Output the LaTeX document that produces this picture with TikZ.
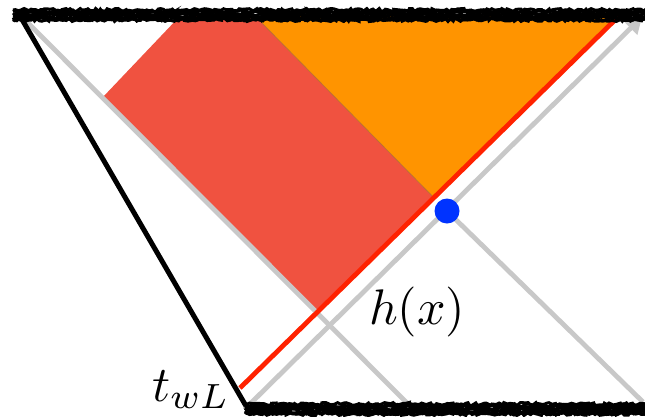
\documentclass[tikz,border=0pt]{standalone}
\usetikzlibrary{arrows.meta,decorations.pathmorphing}
\definecolor{redfill}{RGB}{240,82,64}
\definecolor{orangefill}{RGB}{255,148,0}
\definecolor{redline}{RGB}{255,34,0}
\definecolor{greyline}{RGB}{200,200,200}
\definecolor{bluedot}{RGB}{0,51,255}
\definecolor{seam}{RGB}{190,110,50}
\begin{document}
\begin{tikzpicture}[x=1pt,y=-1pt,
  greyray/.style={draw=greyline,line width=4.8pt},
  redray/.style={draw=redline,line width=4.8pt},
  wall/.style={draw=black,line width=5pt},
  chalk/.style={draw=black,line width=3pt,decorate,
    decoration={random steps,segment length=2.5pt,amplitude=1.5pt}},
  lbl/.style={inner sep=0pt,scale=5}]
\pgfmathsetseed{7}
\useasboundingbox (0,0) rectangle (645,416);
% key points
\coordinate (WT) at (20,16);
\coordinate (WB) at (246,406);
\coordinate (G1a) at (25,20);
\coordinate (G1b) at (408,404);
\coordinate (G2a) at (250,404);
\coordinate (G2b) at (642,17);
\coordinate (G3a) at (255,17);
\coordinate (G3b) at (643,402);
\coordinate (R1) at (240,388);
\coordinate (R2) at (619,16);
\coordinate (P) at (447,211);
\coordinate (Apex) at (intersection of R1--R2 and G3a--P);
\coordinate (Low) at (intersection of R1--R2 and G1a--G1b);
\coordinate (Lc) at (103,97);
\coordinate (Tc) at (180,16);
\coordinate (To) at (255,16);
% fills
\fill[redfill] (Tc) -- (To) -- (Apex) -- (Low) -- (Lc) -- cycle;
\fill[orangefill] (To) -- (R2) -- (Apex) -- cycle;
\draw[seam,line width=0.8pt] (To) -- (Apex);
% grey rays
\draw[greyray] (G1a) -- (G1b);
\draw[greyray,-{Triangle[length=16pt,width=18pt]}] (G2a) -- (G2b);
\draw[greyray] (P) -- (G3b);
% red ray and wall
\draw[redray] (R1) -- (R2);
\draw[wall] (WT) -- (WB);
% singularities
\foreach \d [count=\i] in {-5,-3.5,-2,-0.5,1,2.5,4,5}{
  \coordinate (ta\i) at (13,{15+\d});
  \coordinate (tb\i) at (648,{15+\d});
  \draw[chalk] (ta\i) -- (tb\i);
  \coordinate (ba\i) at (245,{409+\d});
  \coordinate (bb\i) at (648,{409+\d});
  \draw[chalk] (ba\i) -- (bb\i);
}
% point and labels
\node[circle,fill=bluedot,inner sep=0pt,minimum size=25pt] (dot) at (P) {};
\node[lbl,anchor=base west] (hx) at (368,324) {$h(x)$};
\node[lbl,anchor=base west] (tw) at (151,401) {$t_{wL}$};
\end{tikzpicture}
\end{document}
